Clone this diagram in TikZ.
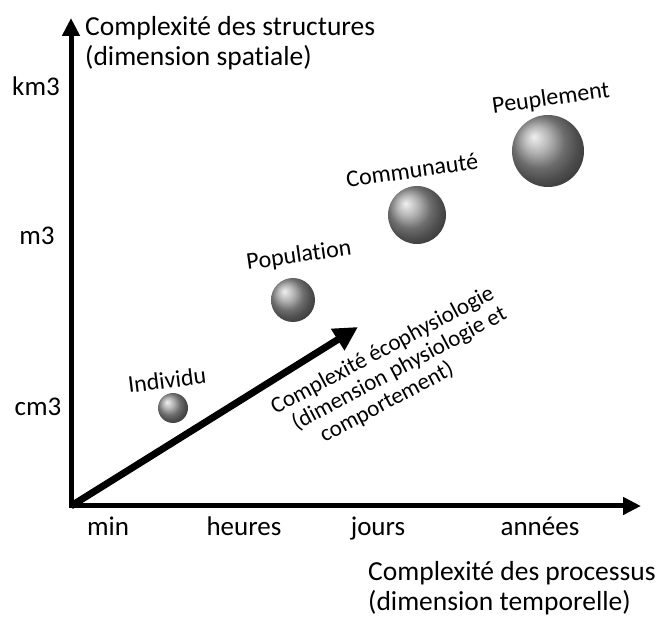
\documentclass[tikz,border=0pt]{standalone}
\usepackage{fontspec}
\setmainfont{Carlito}[Ligatures=NoCommon]
\usetikzlibrary{arrows.meta}
\begin{document}
\begin{tikzpicture}[x=1pt,y=1pt,
  axis/.style={line width=5pt, line cap=rect, -{Triangle[length=18pt,width=17pt]}},
  diag/.style={line width=7pt, -{Triangle[length=24pt,width=24pt]}},
  sphere/.style={circle, inner sep=0pt, shading=ball, ball color=black!39},
  ticklbl/.style={font=\fontsize{27}{32}\selectfont, inner sep=0pt, anchor=base},
  title/.style={font=\fontsize{27.5}{30}\selectfont, align=left, inner sep=0pt, anchor=base west},
  sphlbl/.style={font=\fontsize{24}{28}\selectfont, inner sep=0pt},
  ecolbl/.style={font=\fontsize{23}{24}\selectfont, align=left, inner sep=0pt, anchor=base west, rotate=28},
]
\useasboundingbox (0,0) rectangle (669,617);
\coordinate (O) at (71,111);
\coordinate (ytip) at (71,599);
\coordinate (xtip) at (641,111);
\coordinate (dtip) at (358,290);
\draw[axis] (O) -- (ytip);
\draw[axis] (O) -- (xtip);
\draw[diag] (O) -- (dtip);

% titles
\node[title] (ytitle) at (85,551) {Complexité des structures\\(dimension spatiale)};
\node[title] (xtitle) at (368,6) {Complexité des processus\\(dimension temporelle)};

% y ticks
\node[ticklbl] (km3) at (36,521) {km3};
\node[ticklbl] (m3) at (37,372) {m3};
\node[ticklbl] (cm3) at (38,201) {cm3};

% x ticks
\node[ticklbl] (min) at (108,81) {min};
\node[ticklbl] (heures) at (244,81) {heures};
\node[ticklbl] (jours) at (378,81) {jours};
\node[ticklbl] (annees) at (540,81) {années};

% spheres
\node[sphere, minimum size=30pt] (s1) at (173,209) {};
\node[sphere, minimum size=44pt] (s2) at (293,317) {};
\node[sphere, minimum size=58pt] (s3) at (417,402) {};
\node[sphere, minimum size=72pt] (s4) at (548,466) {};

% sphere labels
\node[sphlbl, rotate=7] (l1) at (167,237) {Individu};
\node[sphlbl, rotate=8] (l2) at (299,361) {Population};
\node[sphlbl, rotate=8] (l3) at (412,447) {Communauté};
\node[sphlbl, rotate=8] (l4) at (551,518) {Peuplement};

% diagonal label
\node[ecolbl] (eco) at (298,160) {Complexité écophysiologie\\\hspace*{11pt}(dimension physiologie et\\\hspace*{30pt}comportement)};
\end{tikzpicture}
\end{document}
